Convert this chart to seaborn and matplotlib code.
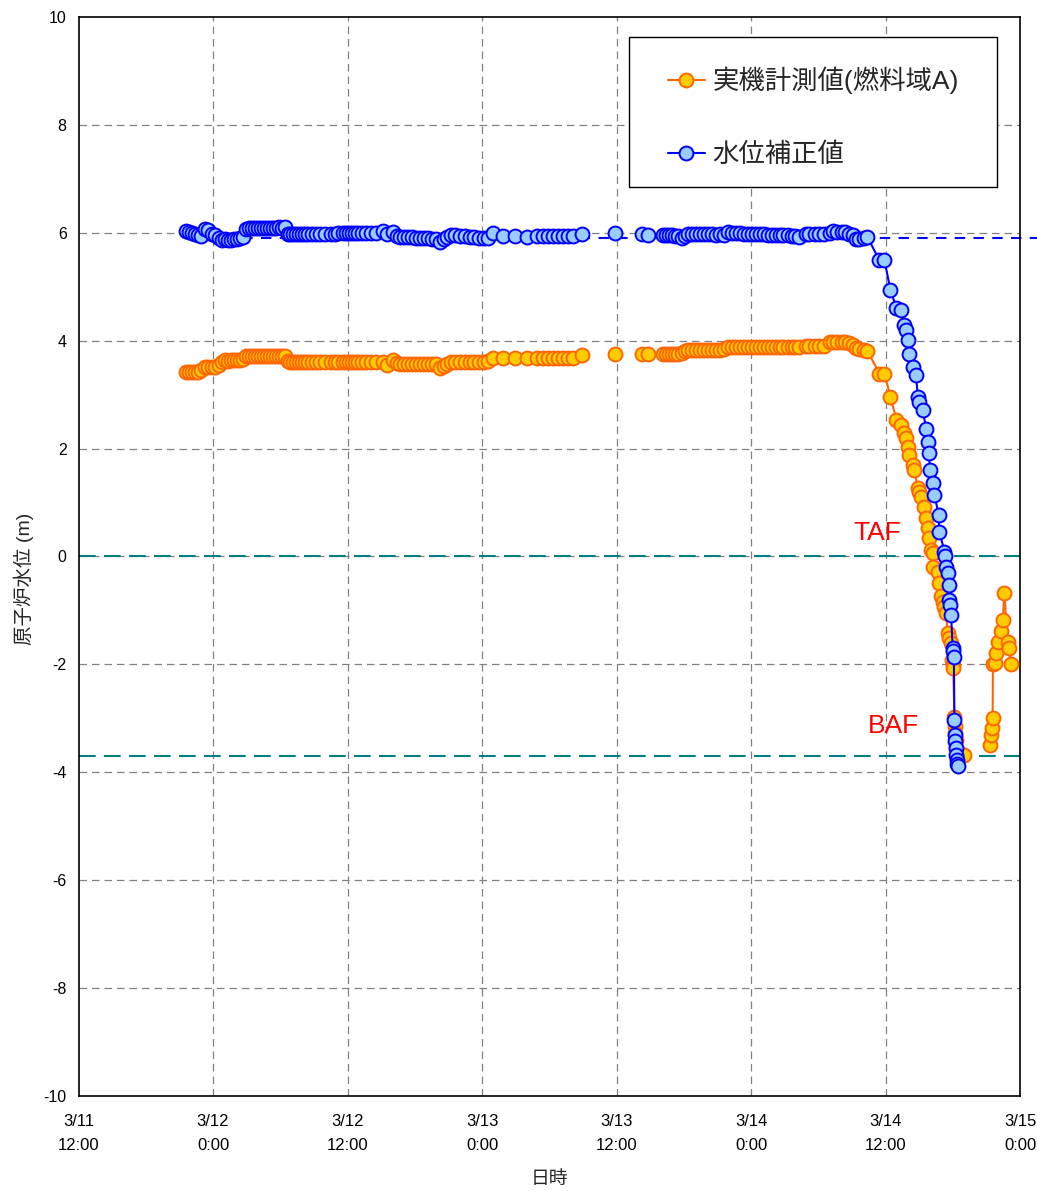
import numpy as np
import pandas as pd
import matplotlib
matplotlib.use("Agg")
import matplotlib.pyplot as plt
import matplotlib.dates as mdates
from matplotlib.lines import Line2D
from matplotlib.patches import Rectangle
import seaborn as sns

START = pd.Timestamp("2011-03-11 12:00")

# Elapsed hours since 3/11 12:00 for each record
elapsed_h = [
    9.58, 9.85, 10.12, 10.39, 10.65, 10.92, 11.28, 11.54, 11.90, 12.17,
    12.53, 12.79, 13.06, 13.33, 13.60, 13.86, 14.13, 14.40, 14.67, 14.93,
    15.20, 15.47, 15.73, 16.00, 16.27, 16.54, 16.80, 17.07, 17.34, 17.61,
    17.87, 18.14, 18.41, 18.68, 18.86, 19.12, 19.39, 19.66, 19.92, 20.19,
    20.46, 20.82, 21.17, 21.53, 21.98, 22.51, 22.87, 23.13, 23.58, 23.85,
    24.12, 24.38, 24.65, 24.92, 25.27, 25.63, 26.08, 26.52, 27.15, 27.50,
    28.04, 28.39, 28.66, 29.02, 29.37, 29.73, 30.09, 30.44, 30.80, 31.16,
    31.51, 31.87, 32.23, 32.58, 32.85, 33.21, 33.56, 34.01, 34.46, 34.90,
    35.26, 35.70, 36.15, 36.51, 36.95, 37.84, 38.91, 39.98, 40.88, 41.41,
    41.86, 42.30, 42.75, 43.19, 43.64, 44.08, 44.89, 47.83, 50.24, 50.77,
    52.11, 52.38, 52.64, 52.91, 53.18, 53.45, 53.80, 54.07, 54.34, 54.69,
    55.05, 55.41, 55.76, 56.12, 56.48, 56.83, 57.19, 57.55, 57.90, 58.26,
    58.62, 58.97, 59.33, 59.69, 60.04, 60.40, 60.76, 61.11, 61.47, 61.83,
    62.18, 62.54, 62.89, 63.25, 63.61, 63.96, 64.32, 64.86, 65.21, 65.66,
    66.10, 66.55, 67.00, 67.35, 67.71, 68.07, 68.42, 68.78, 69.05, 69.40,
    69.67, 70.03, 70.38,
    71.45, 71.90, 72.43, 72.97, 73.37, 73.68, 73.83, 73.98, 74.13, 74.42,
    74.57, 74.72, 74.87, 75.02, 75.17, 75.31, 75.46, 75.62, 75.76, 75.85,
    75.91, 75.98, 76.06, 76.20, 76.27, 76.36, 76.65, 76.74, 76.80, 76.95,
    77.10, 77.25, 77.34, 77.40, 77.54, 77.65, 77.69, 77.78, 77.84, 77.93,
    77.99, 78.03, 78.09, 78.14, 78.18, 78.23, 78.27, 78.32, 78.36, 78.41,
    78.45, 79.03,
    81.30, 81.39, 81.46, 81.55, 81.58, 81.75, 81.86, 82.00, 82.30, 82.45,
    82.60, 82.89, 82.98, 83.17,
]

nan = np.nan

# 実機計測値(燃料域A) [m]
measured = [
    3.41, 3.41, 3.41, 3.42, 3.41, 3.45, 3.51, 3.51, 3.51, 3.51,
    3.55, 3.61, 3.64, 3.63, 3.64, 3.64, 3.64, 3.64, 3.66, 3.71,
    3.72, 3.72, 3.72, 3.72, 3.72, 3.72, 3.72, 3.72, 3.72, 3.72,
    3.72, 3.72, 3.72, 3.63, 3.61, 3.61, 3.61, 3.61, 3.61, 3.61,
    3.61, 3.61, 3.61, 3.61, 3.61, 3.61, 3.61, 3.61, 3.61, 3.61,
    3.61, 3.61, 3.61, 3.61, 3.61, 3.61, 3.61, 3.61, 3.61, 3.55,
    3.64, 3.58, 3.57, 3.57, 3.57, 3.57, 3.57, 3.57, 3.57, 3.57,
    3.57, 3.57, 3.50, 3.53, 3.56, 3.60, 3.61, 3.61, 3.61, 3.61,
    3.61, 3.61, 3.61, 3.62, 3.67, 3.67, 3.67, 3.67, 3.67, 3.67,
    3.67, 3.67, 3.67, 3.67, 3.67, 3.67, 3.73, 3.76, 3.76, 3.76,
    3.76, 3.76, 3.76, 3.76, 3.76, 3.76, 3.77, 3.80, 3.82, 3.82,
    3.82, 3.82, 3.82, 3.82, 3.83, 3.82, 3.83, 3.84, 3.88, 3.89,
    3.89, 3.89, 3.89, 3.89, 3.89, 3.89, 3.89, 3.89, 3.89, 3.89,
    3.89, 3.89, 3.89, 3.89, 3.89, 3.89, 3.89, 3.90, 3.90, 3.90,
    3.90, 3.90, 3.97, 3.98, 3.98, 3.98, 3.97, 3.95, 3.92, 3.86,
    3.84, 3.83, 3.81,
    3.39, 3.39, 2.96, 2.53, 2.44, 2.28, 2.20, 2.03, 1.88, 1.69,
    1.60, nan, 1.26, 1.20, 1.11, nan, 0.92, 0.71, 0.52, nan,
    0.34, nan, 0.12, 0.06, -0.19, nan, -0.28, nan, -0.50, -0.74,
    -0.84, -0.93, nan, -1.05, -1.42, nan, -1.51, nan, -1.61, -1.92,
    -2.01, -2.07, nan, -2.97, -3.15, -3.27, -3.40, -3.55, nan, nan,
    nan, -3.68,
    -3.49, -3.31, -3.18, -3.00, -2.00, -1.97, -1.79, -1.58, -1.39, -1.18,
    -0.68, -1.58, -1.70, -1.99,
]

# 水位補正値 [m]
corrected = [
    6.04, 6.02, 6.00, 5.98, 5.96, 5.94, 6.06, 6.05, 5.98, 5.95,
    5.90, 5.86, 5.89, 5.86, 5.86, 5.88, 5.89, 5.90, 5.92, 6.06,
    6.08, 6.08, 6.08, 6.08, 6.08, 6.08, 6.09, 6.09, 6.09, 6.08,
    6.10, 6.09, 6.11, 5.98, 5.97, 5.97, 5.97, 5.97, 5.97, 5.97,
    5.97, 5.97, 5.98, 5.98, 5.98, 5.98, 5.98, 5.99, 5.99, 5.99,
    5.99, 5.99, 5.99, 5.99, 5.99, 5.99, 5.99, 5.99, 6.04, 5.98,
    6.02, 5.94, 5.92, 5.92, 5.92, 5.92, 5.91, 5.91, 5.91, 5.90,
    5.89, 5.89, 5.82, 5.88, 5.92, 5.96, 5.96, 5.94, 5.93, 5.92,
    5.92, 5.91, 5.91, 5.91, 6.00, 5.94, 5.94, 5.92, 5.94, 5.93,
    5.93, 5.93, 5.93, 5.93, 5.93, 5.93, 5.98, 6.00, 5.97, 5.96,
    5.96, 5.95, 5.95, 5.95, 5.94, 5.93, 5.90, 5.93, 5.97, 5.98,
    5.98, 5.98, 5.97, 5.97, 5.97, 5.96, 5.97, 5.96, 6.01, 6.00,
    6.00, 5.99, 5.98, 5.98, 5.98, 5.97, 5.97, 5.97, 5.96, 5.96,
    5.95, 5.96, 5.95, 5.95, 5.94, 5.93, 5.92, 5.97, 5.98, 5.98,
    5.98, 5.98, 6.00, 6.03, 6.02, 6.02, 6.01, 5.98, 5.95, 5.88,
    5.89, 5.90, 5.92,
    5.49, 5.49, 4.94, 4.60, 4.56, 4.29, 4.19, 4.01, 3.76, 3.51,
    nan, 3.36, 2.96, 2.87, nan, 2.71, nan, 2.37, 2.13, 1.91,
    nan, 1.60, nan, 1.36, nan, 1.14, nan, 0.77, 0.46, nan,
    nan, 0.09, 0.00, -0.19, -0.31, -0.53, -0.80, -0.90, -1.08, nan,
    -1.70, -1.76, -1.86, -3.03, -3.31, -3.43, -3.55, -3.68, -3.77, -3.84,
    -3.89, nan,
    nan, nan, nan, nan, nan, nan, nan, nan, nan, nan,
    nan, nan, nan, nan,
]

# Hours at which recording resumes after an interruption
resume_h = [47.83, 50.24, 52.11, 81.30]

series_names = ["実機計測値(燃料域A)", "水位補正値"]

tick_hours = [0, 12, 24, 36, 48, 60, 72, 84]
tick_labels = ["3/11\n12:00", "3/12\n0:00", "3/12\n12:00", "3/13\n0:00",
               "3/13\n12:00", "3/14\n0:00", "3/14\n12:00", "3/15\n0:00"]

TAF = 0.0
BAF = -3.7
corrected_ref = 5.9

ORANGE_LINE, ORANGE_FACE = "#FF6600", "#FFCC00"
BLUE_LINE, BLUE_FACE = "#0000FF", "#99CCFF"
TEAL = "#008080"

# ---------------------------------------------------------------- data frame
hours = np.asarray(elapsed_h)
times = START + pd.to_timedelta(hours, unit="h")
segment = np.searchsorted(resume_h, hours, side="right")
df = pd.concat([
    pd.DataFrame({"time": times, "level": measured,
                  "series": series_names[0], "segment": segment}),
    pd.DataFrame({"time": times, "level": corrected,
                  "series": series_names[1], "segment": segment}),
], ignore_index=True)

# ---------------------------------------------------------------- style
sns.set_theme(style="white")
plt.rcParams["font.family"] = ["Liberation Sans", "Noto Sans CJK JP", "DejaVu Sans"]

fig = plt.figure(figsize=(10.37, 11.91), dpi=100)
ax = fig.add_axes([0.0757, 0.0798, 0.908, 0.906])

def tnum(h):
    return mdates.date2num(START + pd.Timedelta(hours=h))

x0, x1 = tnum(0), tnum(84)

# grid
for h in tick_hours[1:-1]:
    ax.axvline(tnum(h), color="#808080", lw=0.9, dashes=(6, 4), zorder=1)
for v in range(-8, 10, 2):
    ax.axhline(v, color="#808080", lw=0.9, dashes=(6, 4), zorder=1)

# TAF / BAF
ax.axhline(TAF, color=TEAL, lw=1.5, dashes=(8, 4), zorder=2)
ax.axhline(BAF, color=TEAL, lw=1.5, dashes=(8, 4), zorder=2)

# corrected-level reference line running past the right edge
ax.plot([tnum(hours[0]), tnum(85.6)], [corrected_ref, corrected_ref],
        color=BLUE_LINE, lw=1.5, dashes=(5, 4), clip_on=False, zorder=2)

marker_kw = dict(marker="o", markersize=10, markeredgewidth=1.4, linewidth=1.5)
sns.lineplot(data=df[df["series"] == series_names[0]], x="time", y="level",
             units="segment", estimator=None, sort=True, ax=ax,
             color=ORANGE_LINE, markerfacecolor=ORANGE_FACE,
             markeredgecolor=ORANGE_LINE, zorder=3, **marker_kw)
sns.lineplot(data=df[df["series"] == series_names[1]], x="time", y="level",
             units="segment", estimator=None, sort=True, ax=ax,
             color=BLUE_LINE, markerfacecolor=BLUE_FACE,
             markeredgecolor=BLUE_LINE, zorder=4, **marker_kw)

ax.set_xlim(x0, x1)
ax.set_ylim(-10, 10)
ax.set_xticks([tnum(h) for h in tick_hours])
ax.set_xticklabels(tick_labels, fontsize=12, linespacing=1.75)
ax.set_yticks(range(-10, 11, 2))
ax.set_yticklabels([str(v) for v in range(-10, 11, 2)], fontsize=11.5)
ax.tick_params(axis="x", direction="in", length=5, pad=13, colors="black")
ax.tick_params(axis="y", direction="in", length=0, pad=8.5, colors="black")
for s in ax.spines.values():
    s.set_visible(True)
    s.set_color("black")
    s.set_linewidth(1.2)

ax.set_xlabel("日時", fontsize=13.5)
ax.xaxis.set_label_coords(0.5, -0.0695)
ax.set_ylabel("原子炉水位 (m)", fontsize=14)
ax.yaxis.set_label_coords(-0.047, 0.479)

ax.text(tnum(69.1), 0.3, "TAF", color="red", fontsize=19, ha="left", va="baseline")
ax.text(tnum(70.4), -3.27, "BAF", color="red", fontsize=19, ha="left", va="baseline")

# legend box
ax.add_patch(Rectangle((0.5847, 0.8424), 0.3913, 0.1391, transform=ax.transAxes,
                       facecolor="white", edgecolor="black", lw=1.0, zorder=5))
handles = [
    Line2D([], [], color=ORANGE_LINE, markerfacecolor=ORANGE_FACE,
           markeredgecolor=ORANGE_LINE, **marker_kw),
    Line2D([], [], color=BLUE_LINE, markerfacecolor=BLUE_FACE,
           markeredgecolor=BLUE_LINE, **marker_kw),
]
leg = ax.legend(handles, series_names, loc="upper left",
                bbox_to_anchor=(0.626, 0.954), borderaxespad=0, borderpad=0,
                fontsize=19, frameon=False, labelspacing=1.83,
                handlelength=1.4, handletextpad=0.28)
leg.set_zorder(6)

fig.savefig("out.png", dpi=100)
